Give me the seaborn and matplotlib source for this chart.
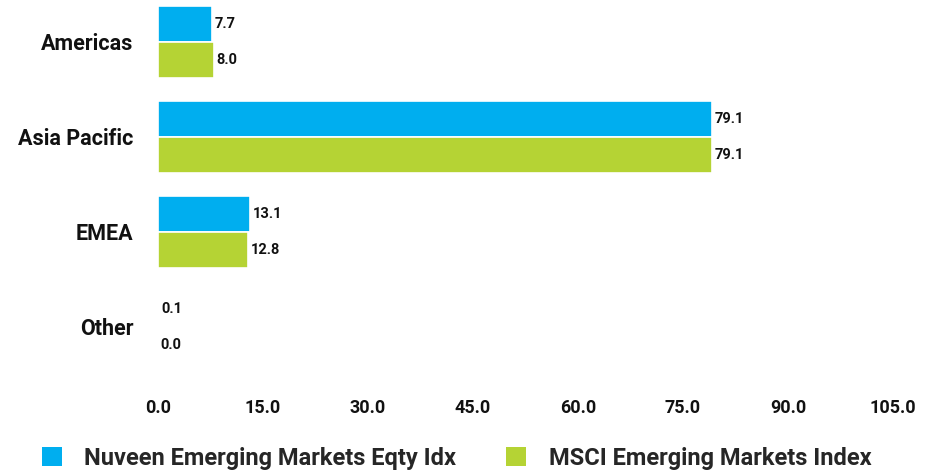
import matplotlib
matplotlib.use("Agg")
import matplotlib.pyplot as plt
import seaborn as sns
import pandas as pd
from matplotlib.patches import Patch

regions = ["Americas", "Asia Pacific", "EMEA", "Other"]
series_names = ["Nuveen Emerging Markets Eqty Idx", "MSCI Emerging Markets Index"]
nuveen = [7.7, 79.1, 13.1, 0.1]
msci = [8.0, 79.1, 12.8, 0.0]
colors = ["#00AEEF", "#B5D334"]
xticks = [0, 15, 30, 45, 60, 75, 90, 105]

df = pd.DataFrame({
    "region": regions * 2,
    "series": [series_names[0]] * 4 + [series_names[1]] * 4,
    "value": nuveen + msci,
})

sns.set_theme(style="white")
plt.rcParams['font.family'] = ['Roboto', 'DejaVu Sans']
plt.rcParams['font.weight'] = 'bold'

fig = plt.figure(figsize=(9.43, 4.72), dpi=100)
ax = fig.add_axes([158/943, 1 - 374/472, (893 - 158)/943, 374/472])

sns.barplot(data=df, y="region", x="value", hue="series", orient="h",
            palette=colors, width=0.76, ax=ax, legend=False,
            edgecolor="white", linewidth=1.2, saturation=1)

for cont in ax.containers:
    ax.bar_label(cont, fmt="%.1f", padding=2, fontsize=10.5, fontweight="bold", color="#111111")

ax.set_xlim(0, 105)
ax.set_ylim(3.5, -0.44)
ax.set_xticks(xticks)
ax.set_xticklabels([f"{t:.1f}" for t in xticks], fontsize=13, fontweight="bold", color="#111111")
ax.tick_params(axis="y", labelsize=15.5, colors="#111111", pad=17.5, length=0)
ax.tick_params(axis="x", pad=18, length=0)
for lab in ax.get_yticklabels():
    lab.set_fontweight("bold")
ax.set_xlabel("")
ax.set_ylabel("")
for s in ax.spines.values():
    s.set_visible(False)
ax.grid(False)

handles = [Patch(facecolor=c, edgecolor="none") for c in colors]
fig.legend(handles, series_names, loc="center left", bbox_to_anchor=(42/943, 14/472),
           ncol=2, frameon=False, borderpad=0, borderaxespad=0,
           handlelength=0.85, handleheight=0.85,
           handletextpad=0.95, columnspacing=2.1, prop={"weight": "bold", "size": 17})

fig.savefig("out.png", dpi=100)
